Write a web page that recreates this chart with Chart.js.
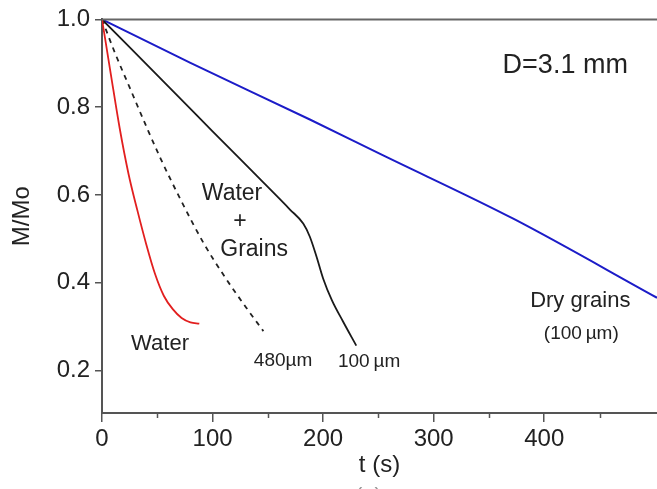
<!DOCTYPE html>
<html>
<head>
<meta charset="utf-8">
<script src="https://cdn.jsdelivr.net/npm/chart.js@4.4.1/dist/chart.umd.min.js"></script>
<style>
  html, body { margin: 0; padding: 0; background: #fff; overflow: hidden; }
  #wrap { width: 657px; height: 489px; position: relative; }
</style>
</head>
<body>
<div id="wrap"><canvas id="c"></canvas></div>
<script>
// Mass ratio M/Mo versus time t (s), drop diameter D = 3.1 mm
const waterT = [0, 8, 16, 24, 32, 40, 48, 56, 64, 72, 80, 88];
const waterM = [1.0, 0.875, 0.752, 0.648, 0.565, 0.488, 0.42, 0.37, 0.34, 0.32, 0.31, 0.307];

const grains480T = [0, 12, 25, 42, 53, 71, 92, 112, 130, 146];
const grains480M = [1.0, 0.922, 0.845, 0.745, 0.683, 0.59, 0.49, 0.41, 0.345, 0.29];

const grains100T = [0, 70, 100, 143, 170, 182, 188, 194, 200, 208, 218, 230];
const grains100M = [1.0, 0.822, 0.745, 0.636, 0.567, 0.535, 0.505, 0.46, 0.41, 0.36, 0.312, 0.257];

const dryT = [0, 80, 188, 252, 372, 502];
const dryM = [1.0, 0.901, 0.772, 0.693, 0.546, 0.366];

const xTickValues = [0, 100, 200, 300, 400];
const xMinorValues = [50, 150, 250, 350, 450];
const yTickValues = [0.2, 0.4, 0.6, 0.8, 1.0];

const X_MIN = 0, X_MAX = 502;
const Y_MIN = 0.1035, Y_MAX = 1.0;

const FONT = '"Liberation Sans", Arial, Helvetica, sans-serif';

// In-plot text labels, placed in data units
const notes = [
  { text: 'D=3.1 mm', t: 419, m: 0.896, size: 27 },
  { text: 'Water', t: 117.6, m: 0.603, size: 23 },
  { text: '+', t: 124.9, m: 0.539, size: 23 },
  { text: 'Grains', t: 137.6, m: 0.475, size: 23 },
  { text: 'Water', t: 52.5, m: 0.261, size: 22 },
  { text: '480\u00b5m', t: 163.8, m: 0.223, size: 19 },
  { text: '100\u2009\u00b5m', t: 241.6, m: 0.220, size: 19 },
  { text: 'Dry grains', t: 432.6, m: 0.358, size: 22 },
  { text: '(100\u2009\u00b5m)', t: 433.5, m: 0.284, size: 19 }
];

const pts = (ts, ms) => ts.map((t, i) => ({ x: t, y: ms[i] }));

const extras = {
  id: 'extras',
  afterDraw(chart) {
    const { ctx, chartArea, scales: { x, y } } = chart;
    ctx.save();
    // top frame line
    const yTop = y.getPixelForValue(Y_MAX);
    ctx.strokeStyle = '#666';
    ctx.lineWidth = 2;
    ctx.beginPath();
    ctx.moveTo(chartArea.left, yTop);
    ctx.lineTo(chartArea.right, yTop);
    ctx.stroke();
    // minor ticks on the time axis
    const yb = chartArea.bottom;
    ctx.strokeStyle = '#555';
    ctx.lineWidth = 1.5;
    xMinorValues.forEach(v => {
      const px = Math.round(x.getPixelForValue(v)) + 0.5;
      ctx.beginPath();
      ctx.moveTo(px, yb);
      ctx.lineTo(px, yb + 5);
      ctx.stroke();
    });
    // labels
    ctx.fillStyle = '#222';
    ctx.textAlign = 'center';
    ctx.textBaseline = 'middle';
    notes.forEach(n => {
      ctx.font = n.size + 'px ' + FONT;
      ctx.fillText(n.text, x.getPixelForValue(n.t), y.getPixelForValue(n.m));
    });
    // panel tag, mostly below the bottom edge
    ctx.fillStyle = '#999';
    ctx.font = '22px ' + FONT;
    ctx.textBaseline = 'top';
    ctx.fillText('(a)', (x.getPixelForValue(200) + x.getPixelForValue(300)) / 2 - 10, chart.height - 3);
    ctx.restore();
  }
};

new Chart(document.getElementById('c'), {
  type: 'line',
  data: {
    datasets: [
      { data: pts(waterT, waterM), borderColor: '#e21f1f', borderWidth: 1.8, pointRadius: 0, cubicInterpolationMode: 'monotone' },
      { data: pts(grains480T, grains480M), borderColor: '#222', borderWidth: 1.8, borderDash: [5, 5], pointRadius: 0, cubicInterpolationMode: 'monotone' },
      { data: pts(grains100T, grains100M), borderColor: '#1a1a1a', borderWidth: 1.8, pointRadius: 0, cubicInterpolationMode: 'monotone' },
      { data: pts(dryT, dryM), borderColor: '#1c1cc8', borderWidth: 2, pointRadius: 0, cubicInterpolationMode: 'monotone' }
    ]
  },
  options: {
    responsive: true,
    maintainAspectRatio: false,
    animation: false,
    layout: { padding: { top: 16, left: 0, right: 0, bottom: 0 } },
    plugins: { legend: { display: false }, tooltip: { enabled: false } },
    scales: {
      x: {
        type: 'linear',
        min: X_MIN,
        max: X_MAX,
        afterFit: s => { s.height = 76; },
        afterBuildTicks: s => { s.ticks = xTickValues.map(v => ({ value: v })); },
        ticks: { font: { family: FONT, size: 24 }, color: '#222', padding: 3, autoSkip: false, maxRotation: 0 },
        grid: { drawOnChartArea: false, drawTicks: true, tickLength: 9, color: '#555', lineWidth: 1.5 },
        border: { display: true, color: '#555', width: 2 },
        title: { display: true, text: 't (s)', font: { family: FONT, size: 24, lineHeight: 1.2 }, color: '#222', padding: { top: 0, bottom: 9 } }
      },
      y: {
        type: 'linear',
        min: Y_MIN,
        max: Y_MAX,
        afterFit: s => { s.width = 102; },
        afterBuildTicks: s => { s.ticks = yTickValues.map(v => ({ value: v })); },
        ticks: { font: { family: FONT, size: 24 }, color: '#222', padding: 5, callback: v => v.toFixed(1) },
        grid: { drawOnChartArea: false, drawTicks: true, tickLength: 7, color: '#555', lineWidth: 1.5 },
        border: { display: true, color: '#555', width: 2 },
        title: { display: true, text: 'M/Mo', font: { family: FONT, size: 24, lineHeight: 1.2 }, color: '#222', padding: { top: 8, bottom: 0 } }
      }
    }
  },
  plugins: [extras]
});
</script>
</body>
</html>
